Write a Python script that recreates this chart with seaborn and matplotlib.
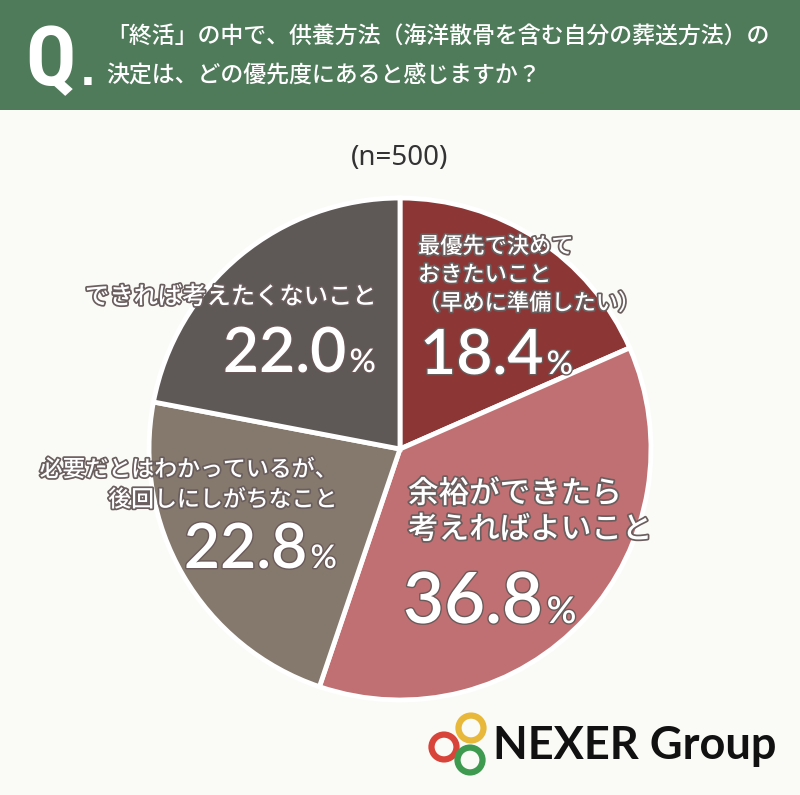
import matplotlib
matplotlib.use("Agg")
import matplotlib.pyplot as plt
import matplotlib.patheffects as pe
from matplotlib.patches import Rectangle, Circle
import seaborn as sns

sns.set_theme(style="white")
plt.rcParams['font.family'] = ['Noto Sans CJK JP', 'DejaVu Sans']

# Data
categories = ["最優先で決めて\nおきたいこと\n（早めに準備したい）",
              "余裕ができたら\n考えればよいこと",
              "必要だとはわかっているが、\n後回しにしがちなこと",
              "できれば考えたくないこと"]
values = [18.4, 36.8, 22.8, 22.0]
value_labels = ["18.4", "36.8", "22.8", "22.0"]
colors = ["#8c3636", "#c07072", "#85786d", "#5e5856"]
title_line1 = "「終活」の中で、供養方法（海洋散骨を含む自分の葬送方法）の"
title_line2 = "決定は、どの優先度にあると感じますか？"
n_label = "(n=500)"

W, H = 800, 795
fig = plt.figure(figsize=(W / 100, H / 100), dpi=100)
fig.patch.set_facecolor("#fafaf6")

def fx(x):
    return x / W

def fy(y):
    return 1 - y / H

# header band
fig.patches.append(Rectangle((0, fy(110)), 1, 110 / H, transform=fig.transFigure,
                             facecolor="#4f7b5a", edgecolor="none", zorder=0))
fig.text(fx(25), fy(85), "Q", color="white", fontsize=60, fontweight="bold",
         family=["Liberation Sans Narrow", "Roboto Condensed", "DejaVu Sans"],
         ha="left", va="baseline")
fig.text(fx(80), fy(85), ".", color="white", fontsize=30, fontweight="bold",
         family=["DejaVu Sans"], ha="left", va="baseline")
fig.text(fx(106), fy(36), title_line1, color="white", fontsize=16.5, fontweight="medium",
         ha="left", va="center")
fig.text(fx(106), fy(76), title_line2, color="white", fontsize=16.5, fontweight="medium",
         ha="left", va="center")

fig.text(0.5, fy(158), n_label, color="#333333", fontsize=20, ha="center", va="center",
         family=["Noto Sans", "DejaVu Sans"])

# pie
cx, cy, r = 400, 449, 251
ax = fig.add_axes([fx(cx - r), fy(cy + r), 2 * r / W, 2 * r / H])
ax.pie(values, colors=colors, startangle=90, counterclock=False, radius=1,
       wedgeprops=dict(edgecolor="white", linewidth=3.5))
ax.set_xlim(-1.0, 1.0)
ax.set_ylim(-1.0, 1.0)
ax.set_aspect("equal")
ax.axis("off")

stroke = [pe.withStroke(linewidth=2.5, foreground="#6a5e5e")]
stroke_big = [pe.withStroke(linewidth=2.0, foreground="#6a5a5a")]

def big_value(xr, y, val, fs, ha):
    # numeric part + smaller %
    kw = dict(color="white", va="baseline", family=["Lato", "DejaVu Sans"],
              fontweight="semibold", path_effects=stroke_big)
    if ha == "left":
        t = fig.text(fx(xr), fy(y), val, fontsize=fs, ha="left", **kw)
        fig.canvas.draw()
        bb = t.get_window_extent()
        fig.text(bb.x1 / W + 0.004, fy(y), "%", fontsize=fs * 0.52, ha="left", **kw)
    else:
        p = fig.text(fx(xr), fy(y), "%", fontsize=fs * 0.52, ha="right", **kw)
        fig.canvas.draw()
        bb = p.get_window_extent()
        fig.text(bb.x0 / W - 0.004, fy(y), val, fontsize=fs, ha="right", **kw)

lab = dict(color="white", fontweight="medium", path_effects=stroke, va="center")
# slice 1
fig.text(fx(418), fy(275), categories[0], fontsize=16, ha="left", linespacing=1.3, **lab)
big_value(420, 374, value_labels[0], 45, "left")
# slice 2
fig.text(fx(408), fy(512), categories[1], fontsize=22, ha="left", linespacing=1.2, **lab)
big_value(403, 623, value_labels[1], 51, "left")
# slice 3
fig.text(fx(337), fy(485), categories[2], fontsize=16.5, ha="right", linespacing=1.4,
         multialignment="right", **lab)
big_value(337, 568, value_labels[2], 45, "right")
# slice 4
fig.text(fx(376), fy(297), categories[3], fontsize=17.5, ha="right", **lab)
big_value(376, 372, value_labels[3], 45, "right")

# logo
for (x, y, c) in [(471, 728, "#e8b83a"), (444, 747, "#d8443a"), (470, 760, "#3d9a4e")]:
    fig.patches.append(Circle((fx(x), fy(y)), 12.5 / W, transform=fig.transFigure,
                              facecolor="none", edgecolor=c, linewidth=4.5))
fig.text(fx(493), fy(746), "NEXER Group", color="#111111", fontsize=32.5, fontweight="bold",
         ha="left", va="center", family=["Lato", "DejaVu Sans"])

fig.savefig("out.png", dpi=100, facecolor=fig.get_facecolor())
